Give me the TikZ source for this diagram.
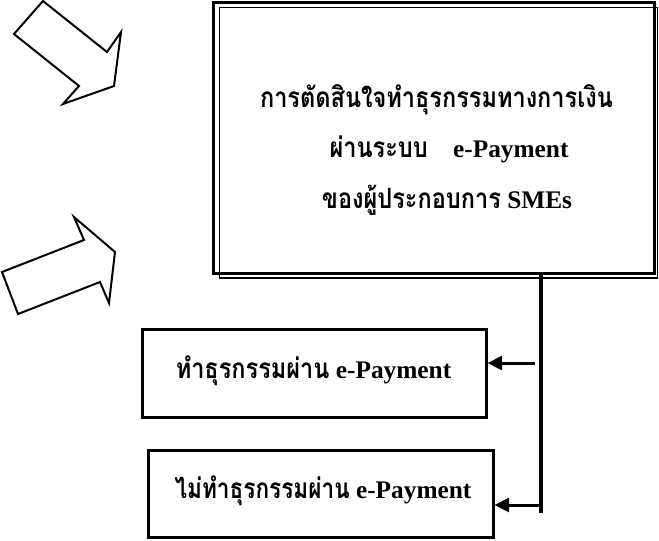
\documentclass[tikz,border=0pt]{standalone}
\usepackage{fontspec}
\usepackage{graphicx}
\setmainfont{Liberation Serif}
\newfontfamily\thai[Script=Thai]{Loma}
\newcommand{\thtext}[1]{\scalebox{0.84}[1]{\thai #1}}
\usetikzlibrary{arrows.meta}
\tikzset{
  blockarrow/.style={draw=black, line width=1.5pt, line join=miter, fill=white},
  outbox/.style={draw=black, line width=2.25pt, rectangle, inner sep=0pt},
  thinbox/.style={draw=black, line width=1.1pt, rectangle, inner sep=0pt},
  txt/.style={anchor=base, inner sep=0pt, font=\bfseries\fontsize{19}{22}\selectfont},
  conn/.style={line width=3pt},
  arr/.style={line width=2.25pt, -{Triangle[length=11pt,width=10.5pt]}}
}
\begin{document}
\begin{tikzpicture}[x=0.75pt,y=-0.75pt]
\useasboundingbox (0,0) rectangle (659,540);
% block arrows
\draw[blockarrow] (14,34) -- (43,1) -- (107,52) -- (121,32) -- (114,86) -- (63,104) -- (79,86) -- cycle;
\draw[blockarrow] (2,272) -- (84,240) -- (74,217) -- (115,252) -- (109,303) -- (100,282) -- (18,314) -- cycle;
% main box (thick-thin double border)
\node[thinbox, minimum width=328.5pt, minimum height=202.9pt] (mainthin) at (438.5,142.75) {};
\node[outbox, minimum width=330.75pt, minimum height=203.25pt] (main) at (434,138) {};
\node[txt] (t1) at (436.5,107) {\fontsize{21}{24}\selectfont\thtext{การตัดสินใจทำธุรกรรมทางการเงิน}};
\node[txt] (t2) at (449,157) {{\fontsize{21}{24}\selectfont\thtext{ผ่านระบบ}}\quad e-Payment};
\node[txt] (t3) at (447,208) {{\fontsize{21}{24}\selectfont\thtext{ของผู้ประกอบการ}} SMEs};
% result boxes
\node[outbox, minimum width=258pt, minimum height=66pt] (b1) at (314,373) {};
\node[txt] (b1t) at (313.5,378) {{\fontsize{21}{24}\selectfont\thtext{ทำธุรกรรมผ่าน}} e-Payment};
\node[outbox, minimum width=258.75pt, minimum height=65.25pt] (b2) at (320.5,493.5) {};
\node[txt] (b2t) at (323,498) {{\fontsize{21}{24}\selectfont\scalebox{0.96}[1]{\thtext{ไม่ทำธุรกรรมผ่าน}}} e-Payment};
% connectors
\coordinate (vend) at (541,513);
\coordinate (j1) at (535,363);
\draw[conn] (main.south -| vend) -- (vend);
\draw[arr] (j1) -- (b1.east |- j1);
\draw[arr] (vend |- 0,505) -- (b2.east |- 0,505);
\end{tikzpicture}
\end{document}
